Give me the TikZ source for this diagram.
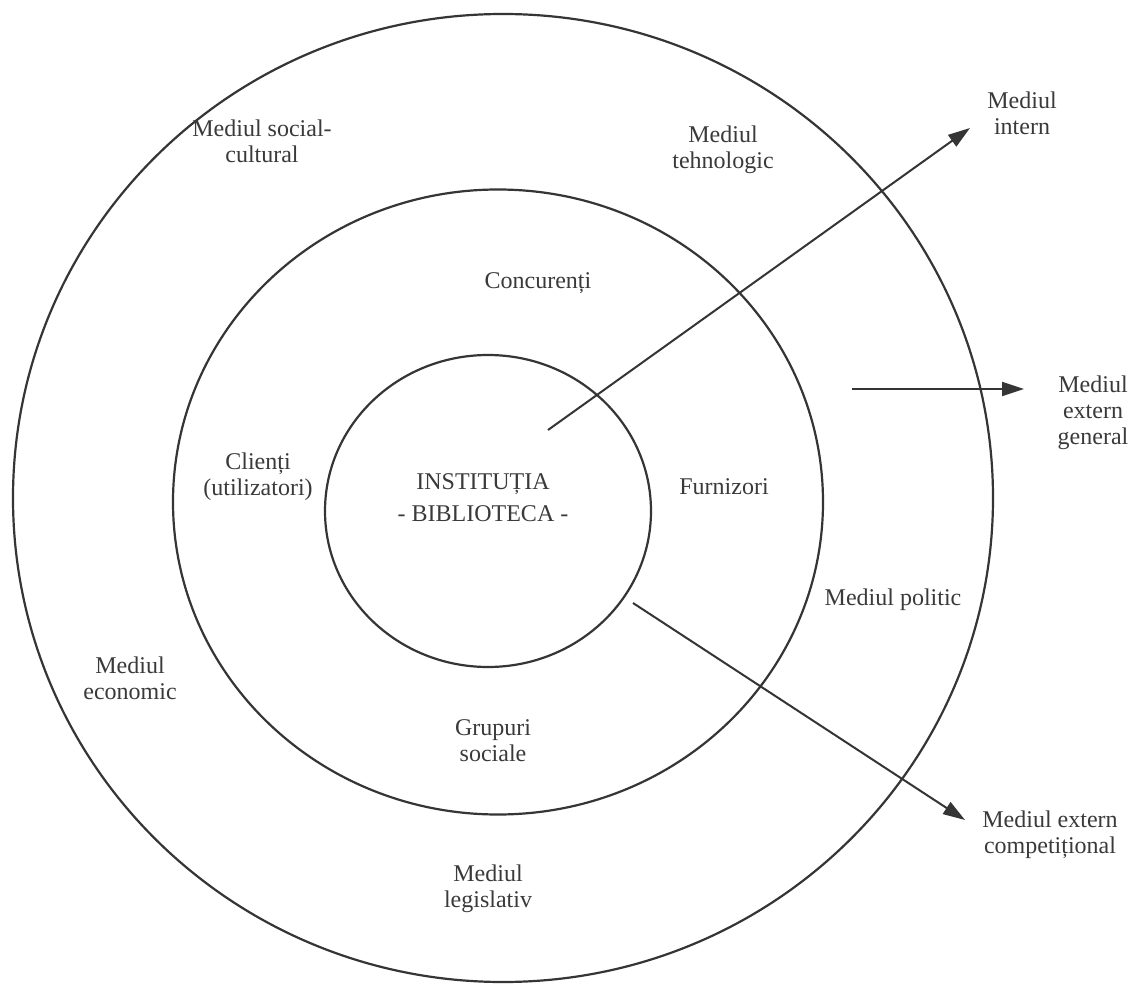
\documentclass[tikz,border=0pt]{standalone}
\usepackage{fontspec}
\setmainfont{Liberation Serif}
\usetikzlibrary{arrows.meta,shapes.geometric}
\definecolor{ink}{HTML}{353535}
\definecolor{txt}{HTML}{3A3A3A}
\tikzset{
  ring/.style={ellipse, draw=ink, line width=2.2pt, inner sep=0pt},
  lbl/.style={align=center, text=txt, font=\fontsize{24}{26}\selectfont, inner sep=0pt},
  pointer/.style={draw=ink, line width=2pt, -{Triangle[length=22pt,width=14pt]}}
}
\begin{document}
\begin{tikzpicture}[x=1pt,y=-1pt]
\useasboundingbox (0,0) rectangle (1128,987);
\fill[white] (0,0) rectangle (1128,987);

% the three environments as nested rings
\node[ring, minimum width=980pt, minimum height=968pt] (outer) at (503,498) {};
\node[ring, minimum width=650pt, minimum height=625pt] (middle) at (498,502) {};
\node[ring, minimum width=326pt, minimum height=312pt] (inner) at (488,511) {};

% labels of the outer ring
\node[lbl] (soc) at (262,141) {Mediul social-\\cultural};
\node[lbl] (teh) at (723,150) {Mediul\\tehnologic};
\node[lbl] (pol) at (893,600) {Mediul politic};
\node[lbl] (eco) at (130,678) {Mediul\\economic};
\node[lbl] (leg) at (488,889) {Mediul\\legislativ};

% labels of the middle ring
\node[lbl] (conc) at (538,283) {Concurenți};
\node[lbl] (cli) at (258,477) {Clienți\\(utilizatori)};
\node[lbl] (furn) at (724,487) {Furnizori};
\node[lbl] (grup) at (493,741) {Grupuri\\sociale};

% the institution
\node[lbl] (inst) at (483,498) {INSTITUȚIA\\[6pt]- BIBLIOTECA -};

% labels outside
\node[lbl] (intern) at (1022,113) {Mediul\\intern};
\node[lbl] (general) at (1093,413) {Mediul\\extern\\general};
\node[lbl] (compet) at (1050,835) {Mediul extern\\competițional};

% arrow end points
\coordinate (a1s) at (548,430);
\coordinate (a1e) at (970,128);
\coordinate (a2s) at (852,389);
\coordinate (a2e) at (1024,389);
\coordinate (a3s) at (633,603);
\coordinate (a3e) at (965,820);

\draw[pointer] (a1s) -- (a1e);
\draw[pointer] (a2s) -- (a2e);
\draw[pointer] (a3s) -- (a3e);
\end{tikzpicture}
\end{document}
